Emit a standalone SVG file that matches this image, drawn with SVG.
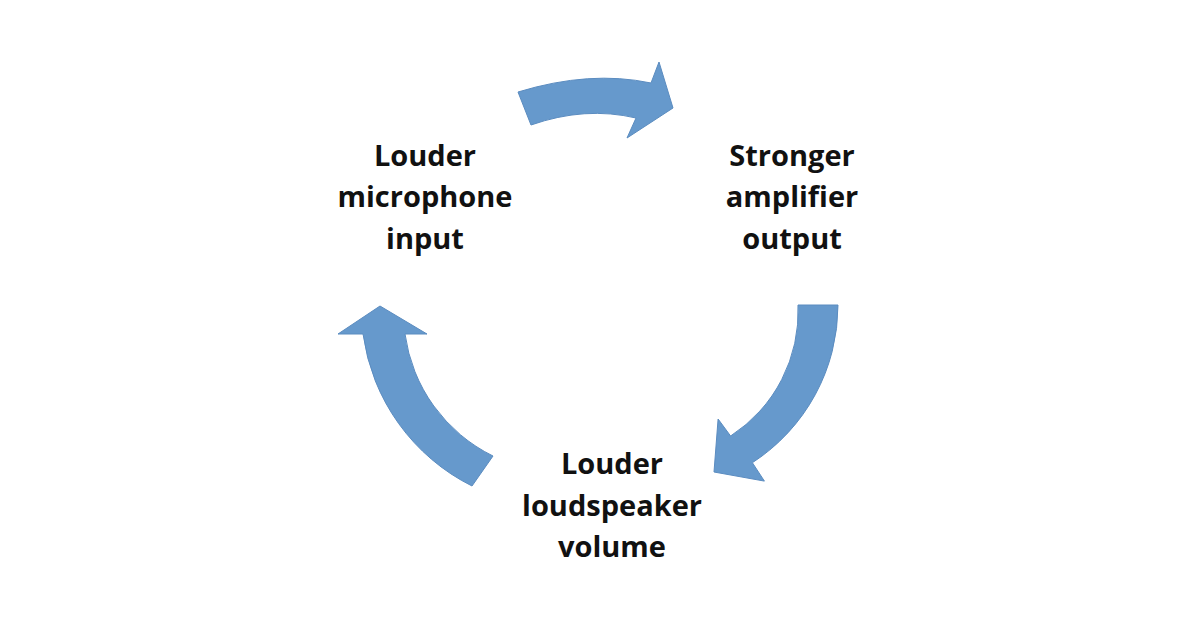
<svg xmlns="http://www.w3.org/2000/svg" width="1200" height="630" viewBox="0 0 1200 630">
<style>
.a{fill:#6699cc;stroke:#5b8cc0;stroke-width:1}
.t{font-family:"Open Sans",sans-serif;font-weight:bold;font-size:29px;fill:#111;text-anchor:middle}
</style>
<rect width="1200" height="630" fill="#fff"/>
<g id="connectors">
<path class="a" d="M518,92 Q590,70 651,83 L659,62 L673,108 L627,138 L636,118 Q585,106 531,125 Z"/>
<path class="a" d="M838,305 A188,188 0 0 1 752.4,462.7 L764.4,481.1 L714,472 L718.1,419 L730.6,436 A148,148 0 0 0 798,305 Z"/>
<path class="a" d="M338,334 L380,306 L427,334 L405,334 A160,160 0 0 0 493,456 L472,486 A200,200 0 0 1 363,334 Z"/>
</g>
<g id="mic"><text class="t" x="425" y="166">Louder</text><text class="t" x="425" y="207">microphone</text><text class="t" x="425" y="249">input</text></g>
<g id="amp"><text class="t" x="792" y="166">Stronger</text><text class="t" x="792" y="207">amplifier</text><text class="t" x="792" y="249">output</text></g>
<g id="spk"><text class="t" x="612" y="474">Louder</text><text class="t" x="612" y="516">loudspeaker</text><text class="t" x="612" y="557">volume</text></g>
</svg>
